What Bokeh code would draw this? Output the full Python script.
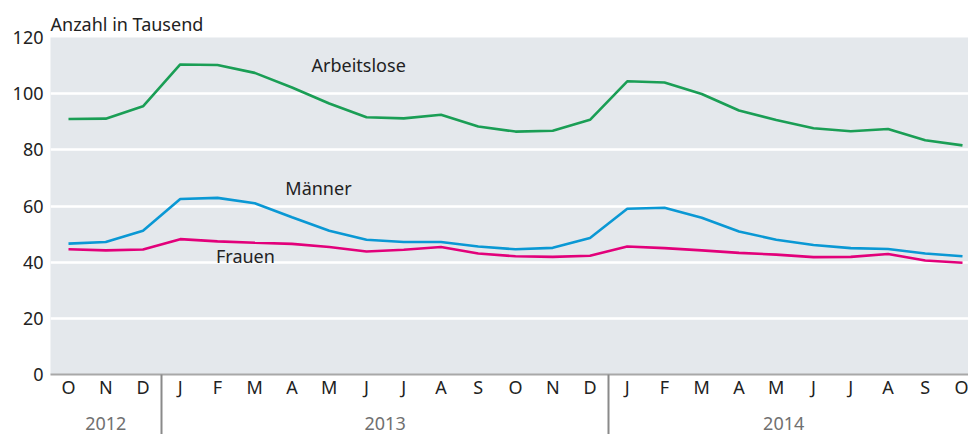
from bokeh.plotting import figure
from bokeh.models import FixedTicker, LinearAxis, Range1d, ColumnDataSource
from bokeh.core.properties import value
from bokeh.embed import file_html
from bokeh.resources import INLINE

# ---- data ----
months = ["O", "N", "D", "J", "F", "M", "A", "M", "J", "J", "A", "S", "O", "N", "D",
          "J", "F", "M", "A", "M", "J", "J", "A", "S", "O"]
years = ["2012", "2013", "2014"]
arbeitslose = [91.0, 91.1, 95.5, 110.4, 110.2, 107.4, 102.2, 96.5, 91.6, 91.2, 92.5, 88.3, 86.5,
               86.8, 90.7, 104.4, 104.0, 99.9, 94.0, 90.6, 87.7, 86.6, 87.4, 83.4, 81.6]
maenner = [46.6, 47.2, 51.2, 62.5, 62.9, 61.0, 56.0, 51.2, 48.0, 47.2, 47.2, 45.6, 44.6,
           45.1, 48.6, 59.0, 59.4, 55.8, 50.9, 48.0, 46.1, 45.0, 44.7, 43.1, 42.1]
frauen = [44.6, 44.2, 44.5, 48.2, 47.4, 46.9, 46.5, 45.4, 43.8, 44.4, 45.4, 43.1, 42.1,
          41.9, 42.3, 45.6, 45.0, 44.2, 43.3, 42.7, 41.8, 41.9, 42.9, 40.6, 39.8]
series_names = ["Arbeitslose", "Männer", "Frauen"]

x = list(range(len(months)))
FONT = "Noto Sans"
FS = "18px"
TXT = "#222222"

p = figure(width=968, height=434, output_backend="svg", toolbar_location=None,
           x_range=Range1d(-0.483, 24.161), y_range=Range1d(0, 120),
           min_border_left=50, min_border_right=0, min_border_top=37, min_border_bottom=60,
           background_fill_color="#e4e8ec", border_fill_color="white", outline_line_color=None)

p.title.text = "Anzahl in Tausend"
p.title.text_font = FONT
p.title.text_font_size = FS
p.title.text_font_style = "normal"
p.title.text_color = TXT
p.title.align = "left"
p.title.offset = 0
p.title.standoff = 4

# grid
p.xgrid.grid_line_color = None
p.ygrid.grid_line_color = "white"
p.ygrid.grid_line_width = 2.5
p.ygrid.ticker = FixedTicker(ticks=[20, 40, 60, 80, 100])

# y axis
yax = p.yaxis[0]
yax.ticker = FixedTicker(ticks=[0, 20, 40, 60, 80, 100, 120])
yax.axis_line_color = None
yax.major_tick_line_color = None
yax.minor_tick_line_color = None
yax.major_tick_out = 0
yax.major_tick_in = 0
yax.major_label_standoff = 7
yax.major_label_text_font = FONT
yax.major_label_text_font_size = FS
yax.major_label_text_color = TXT

# month axis
xax = p.xaxis[0]
xax.ticker = FixedTicker(ticks=x)
xax.major_label_overrides = {i: m for i, m in enumerate(months)}
xax.axis_line_color = "#a8a8a8"
xax.axis_line_width = 2
xax.major_tick_line_color = None
xax.minor_tick_line_color = None
xax.major_tick_out = 0
xax.major_tick_in = 0
xax.major_label_standoff = 0
xax.major_label_text_font = FONT
xax.major_label_text_font_size = FS
xax.major_label_text_color = TXT

# year axis
year_pos = [1.0, 8.5, 19.2]
yrax = LinearAxis(ticker=FixedTicker(ticks=year_pos),
                  major_label_overrides={pos: y for pos, y in zip(year_pos, years)})
yrax.axis_line_color = None
yrax.major_tick_line_color = None
yrax.minor_tick_line_color = None
yrax.major_tick_out = 0
yrax.major_tick_in = 0
yrax.major_label_standoff = 15
yrax.major_label_text_font = FONT
yrax.major_label_text_font_size = FS
yrax.major_label_text_color = "#707070"
p.add_layout(yrax, "below")

# year separators (ticks of a bottom axis reaching up to the frame)
year_breaks = [2.5, 14.5]
sepax = LinearAxis(ticker=FixedTicker(ticks=year_breaks),
                   major_label_overrides={b: "" for b in year_breaks})
sepax.axis_line_color = None
sepax.minor_tick_line_color = None
sepax.major_tick_line_color = "#8a8a8a"
sepax.major_tick_line_width = 2
sepax.major_tick_in = 58
sepax.major_tick_out = 2
sepax.major_label_standoff = 0
sepax.major_label_text_font_size = "0px"
p.add_layout(sepax, "below")

colors = ["#1a9e55", "#0a98d4", "#e2007a"]
for vals, c in zip([arbeitslose, maenner, frauen], colors):
    p.line(x, vals, line_color=c, line_width=2.6)

# series labels
lab_x = [7.79, 6.71, 4.75]
lab_y = [110.3, 66.5, 42.3]
src = ColumnDataSource(dict(x=lab_x, y=lab_y, t=series_names))
p.text(x="x", y="y", text="t", source=src, text_align="center", text_baseline="middle",
       text_font=value(FONT), text_font_size=FS, text_color=TXT)

open("out.html", "w").write(file_html(p, INLINE))
